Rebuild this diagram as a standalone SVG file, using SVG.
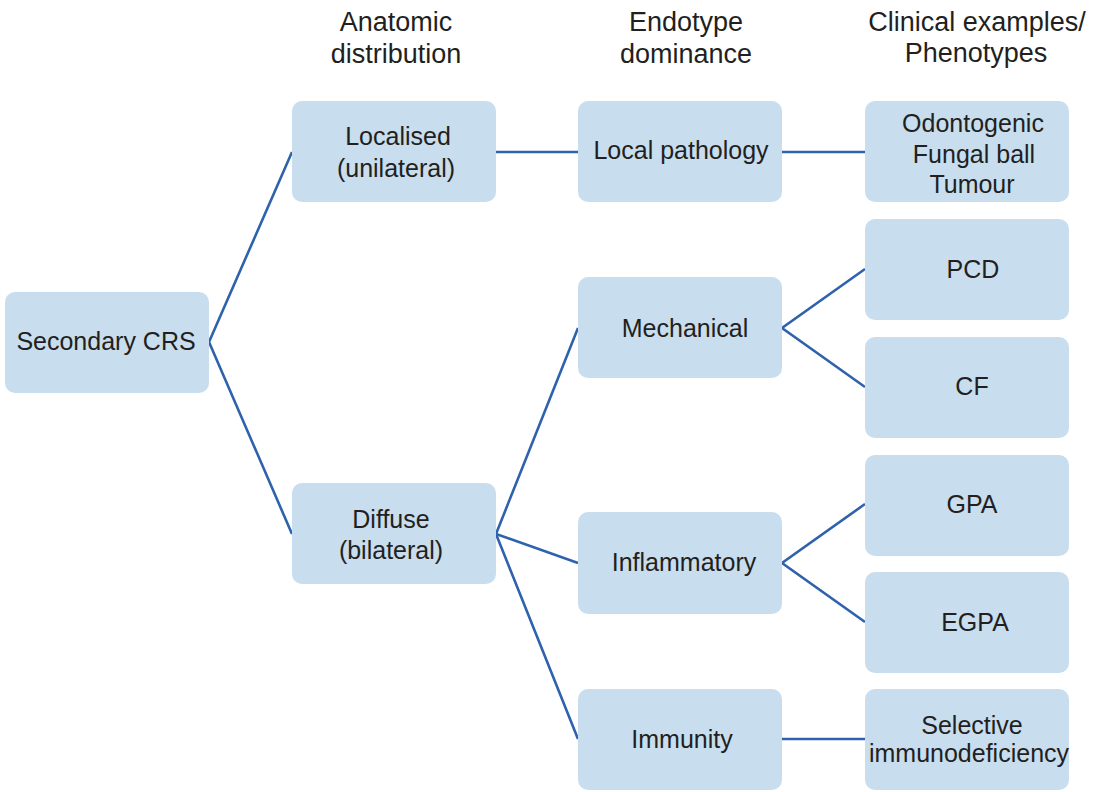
<svg xmlns="http://www.w3.org/2000/svg" width="1103" height="792" viewBox="0 0 1103 792">
  <style>
    .box { fill: #c8ddee; }
    .lbl { font-family: "Liberation Sans", Arial, Helvetica, sans-serif; font-size: 25px; fill: #231f20; text-anchor: middle; }
    .hdr { font-family: "Liberation Sans", Arial, Helvetica, sans-serif; font-size: 27px; fill: #231f20; text-anchor: middle; }
    .link { stroke: #2f62ad; stroke-width: 2.6; fill: none; stroke-linejoin: miter; }
  </style>
  <rect width="1103" height="792" fill="#ffffff"/>

  <!-- column headings -->
  <g id="headers">
    <text class="hdr" x="396" y="31">Anatomic</text>
    <text class="hdr" x="396" y="63">distribution</text>
    <text class="hdr" x="686" y="31">Endotype</text>
    <text class="hdr" x="686" y="63">dominance</text>
    <text class="hdr" x="977" y="31">Clinical examples/</text>
    <text class="hdr" x="976" y="62">Phenotypes</text>
  </g>

  <!-- connectors -->
  <g id="connectors">
    <polyline class="link" points="292,152 209,342 292,534"/>
    <line class="link" x1="496" y1="152" x2="578" y2="152"/>
    <line class="link" x1="782" y1="152" x2="865" y2="152"/>
    <polyline class="link" points="578,328 496,534 578,563"/>
    <line class="link" x1="496" y1="534" x2="578" y2="739"/>
    <polyline class="link" points="865,269 782,328 865,387"/>
    <polyline class="link" points="865,504 782,563 865,622"/>
    <line class="link" x1="782" y1="739" x2="865" y2="739"/>
  </g>

  <g id="secondary-crs">
    <rect class="box" x="5" y="292" width="204" height="101" rx="10"/>
    <text class="lbl" x="106" y="350">Secondary CRS</text>
  </g>

  <g id="localised">
    <rect class="box" x="292" y="101" width="204" height="101" rx="10"/>
    <text class="lbl" x="398" y="145">Localised</text>
    <text class="lbl" x="396" y="177">(unilateral)</text>
  </g>

  <g id="diffuse">
    <rect class="box" x="292" y="483" width="204" height="101" rx="10"/>
    <text class="lbl" x="391" y="528">Diffuse</text>
    <text class="lbl" x="391" y="559">(bilateral)</text>
  </g>

  <g id="local-pathology">
    <rect class="box" x="578" y="101" width="204" height="101" rx="10"/>
    <text class="lbl" x="681" y="159">Local pathology</text>
  </g>

  <g id="mechanical">
    <rect class="box" x="578" y="277" width="204" height="101" rx="10"/>
    <text class="lbl" x="685" y="337">Mechanical</text>
  </g>

  <g id="inflammatory">
    <rect class="box" x="578" y="512" width="204" height="102" rx="10"/>
    <text class="lbl" x="684" y="571">Inflammatory</text>
  </g>

  <g id="immunity">
    <rect class="box" x="578" y="689" width="204" height="101" rx="10"/>
    <text class="lbl" x="682" y="748">Immunity</text>
  </g>

  <g id="odontogenic">
    <rect class="box" x="865" y="101" width="204" height="101" rx="10"/>
    <text class="lbl" x="973" y="132">Odontogenic</text>
    <text class="lbl" x="974" y="163">Fungal ball</text>
    <text class="lbl" x="972" y="193">Tumour</text>
  </g>

  <g id="pcd">
    <rect class="box" x="865" y="219" width="204" height="101" rx="10"/>
    <text class="lbl" x="973" y="278">PCD</text>
  </g>

  <g id="cf">
    <rect class="box" x="865" y="337" width="204" height="101" rx="10"/>
    <text class="lbl" x="972" y="395">CF</text>
  </g>

  <g id="gpa">
    <rect class="box" x="865" y="455" width="204" height="101" rx="10"/>
    <text class="lbl" x="972" y="513">GPA</text>
  </g>

  <g id="egpa">
    <rect class="box" x="865" y="572" width="204" height="101" rx="10"/>
    <text class="lbl" x="975" y="631">EGPA</text>
  </g>

  <g id="selective-immunodeficiency">
    <rect class="box" x="865" y="689" width="204" height="101" rx="10"/>
    <text class="lbl" x="972" y="734">Selective</text>
    <text class="lbl" x="969" y="762">immunodeficiency</text>
  </g>
</svg>
